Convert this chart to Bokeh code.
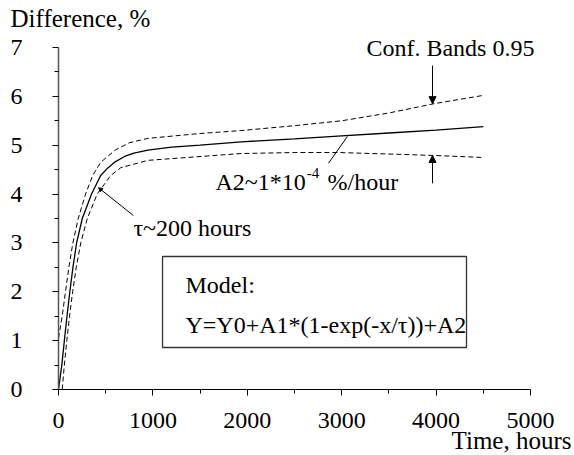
from bokeh.plotting import figure
from bokeh.models import Range1d, Label, Arrow, NormalHead, FixedTicker, BoxAnnotation
from bokeh.embed import file_html
from bokeh.resources import INLINE

# ---- data ----
hours_fit = [0, 35, 62, 90, 120, 153, 192, 252, 350, 447, 520, 600, 700, 800, 947, 1200, 1500, 1936, 2500, 3000, 3500, 4000, 4500]
fit = [0.0, 0.5, 1.0, 1.5, 2.0, 2.5, 3.0, 3.5, 4.0, 4.38, 4.53, 4.66, 4.77, 4.84, 4.9, 4.96, 5.0, 5.07, 5.13, 5.19, 5.25, 5.31, 5.38]

hours_up = [0, 39, 74, 110, 152, 209, 287, 362, 447, 600, 750, 947, 1500, 1936, 2500, 3000, 3500, 3979, 4500]
upper = [1.05, 1.5, 2.0, 2.5, 3.0, 3.5, 4.0, 4.38, 4.65, 4.9, 5.05, 5.14, 5.24, 5.30, 5.40, 5.50, 5.66, 5.85, 6.02]

hours_lo = [39, 62, 88, 117, 150, 188, 236, 305, 410, 553, 660, 947, 1300, 1936, 2500, 2968, 3500, 3979, 4489]
lower = [0.0, 0.5, 1.0, 1.5, 2.0, 2.5, 3.0, 3.5, 4.0, 4.38, 4.54, 4.69, 4.74, 4.83, 4.85, 4.85, 4.82, 4.79, 4.75]

x_ticks = [0, 1000, 2000, 3000, 4000, 5000]
x_minor = [500, 1500, 2500, 3500, 4500]
y_ticks = [0, 1, 2, 3, 4, 5, 6, 7]
y_minor = [0.5, 1.5, 2.5, 3.5, 4.5, 5.5, 6.5]

FONT = "Liberation Serif"

p = figure(width=574, height=455,
           x_range=Range1d(-614.4, 5466), y_range=Range1d(-1.351, 7.962),
           output_backend="svg", toolbar_location=None,
           min_border=0, min_border_left=0, min_border_right=0,
           min_border_top=0, min_border_bottom=0)
p.outline_line_color = None
p.xgrid.grid_line_color = None
p.ygrid.grid_line_color = None
p.background_fill_color = "white"

p.xaxis.fixed_location = 0
p.yaxis.fixed_location = 0
p.xaxis.bounds = (0, 5000)
p.yaxis.bounds = (0, 7)
p.xaxis.ticker = FixedTicker(ticks=x_ticks, minor_ticks=x_minor)
p.yaxis.ticker = FixedTicker(ticks=y_ticks, minor_ticks=y_minor)
for ax in (p.xaxis, p.yaxis):
    ax.major_label_text_font = FONT
    ax.major_label_text_font_size = "24px"
    ax.major_label_text_color = "black"
    ax.major_tick_in = 0
    ax.major_tick_out = 6
    ax.minor_tick_in = 0
    ax.minor_tick_out = 4
    ax.major_tick_line_color = "black"
    ax.minor_tick_line_color = "black"
p.xaxis.axis_line_color = "black"
p.xaxis.axis_line_width = 1.2
p.yaxis.axis_line_color = "#555555"
p.yaxis.axis_line_width = 1.5
p.yaxis.major_label_standoff = 30
p.xaxis.major_label_standoff = 18

# curves
p.line(hours_fit, fit, line_color="black", line_width=1.3)
p.line(hours_up, upper, line_color="black", line_width=1, line_dash="5 3")
p.line(hours_lo, lower, line_color="black", line_width=1, line_dash="5 3")

# model box
p.add_layout(BoxAnnotation(left=1102, right=4322, bottom=0.86, top=2.722,
                           fill_alpha=0, line_color="#333333", line_alpha=1.0, line_width=1.3))

def lab(x, y, t, size="24px", align="left", baseline="middle"):
    p.add_layout(Label(x=x, y=y, text=t, text_font=FONT, text_font_size=size,
                       text_align=align, text_baseline=baseline, text_color="black"))

lab(-508, 7.594, "Difference, %", size="25px")
lab(5434, -1.044, "Time, hours", size="25px", align="right")
lab(4152, 6.98, "Conf. Bands 0.95", align="center")
lab(794, 3.30, "τ~200 hours")
lab(1663, 4.257, "A2~1*10")
lab(2630, 4.43, "-4", size="15px")
lab(2850, 4.257, "%/hour")
lab(1345, 2.129, "Model:")
lab(1345, 1.330, "Y=Y0+A1*(1-exp(-x/τ))+A2")

# arrows to confidence bands
p.add_layout(Arrow(x_start=3962, y_start=6.63, x_end=3962, y_end=5.85,
                   line_color="black", line_width=1,
                   end=NormalHead(size=7, fill_color="black", line_color="black")))
p.add_layout(Arrow(x_start=3962, y_start=4.22, x_end=3962, y_end=4.79,
                   line_color="black", line_width=1,
                   end=NormalHead(size=7, fill_color="black", line_color="black")))
# leader lines
p.add_layout(Arrow(x_start=794, y_start=3.56, x_end=424, y_end=4.13,
                   line_color="black", line_width=1,
                   end=NormalHead(size=4, fill_color="black", line_color="black")))
p.add_layout(Arrow(x_start=2860, y_start=4.63, x_end=3061, y_end=5.18,
                   line_color="black", line_width=1, end=None))

open("out.html", "w").write(file_html(p, INLINE))
